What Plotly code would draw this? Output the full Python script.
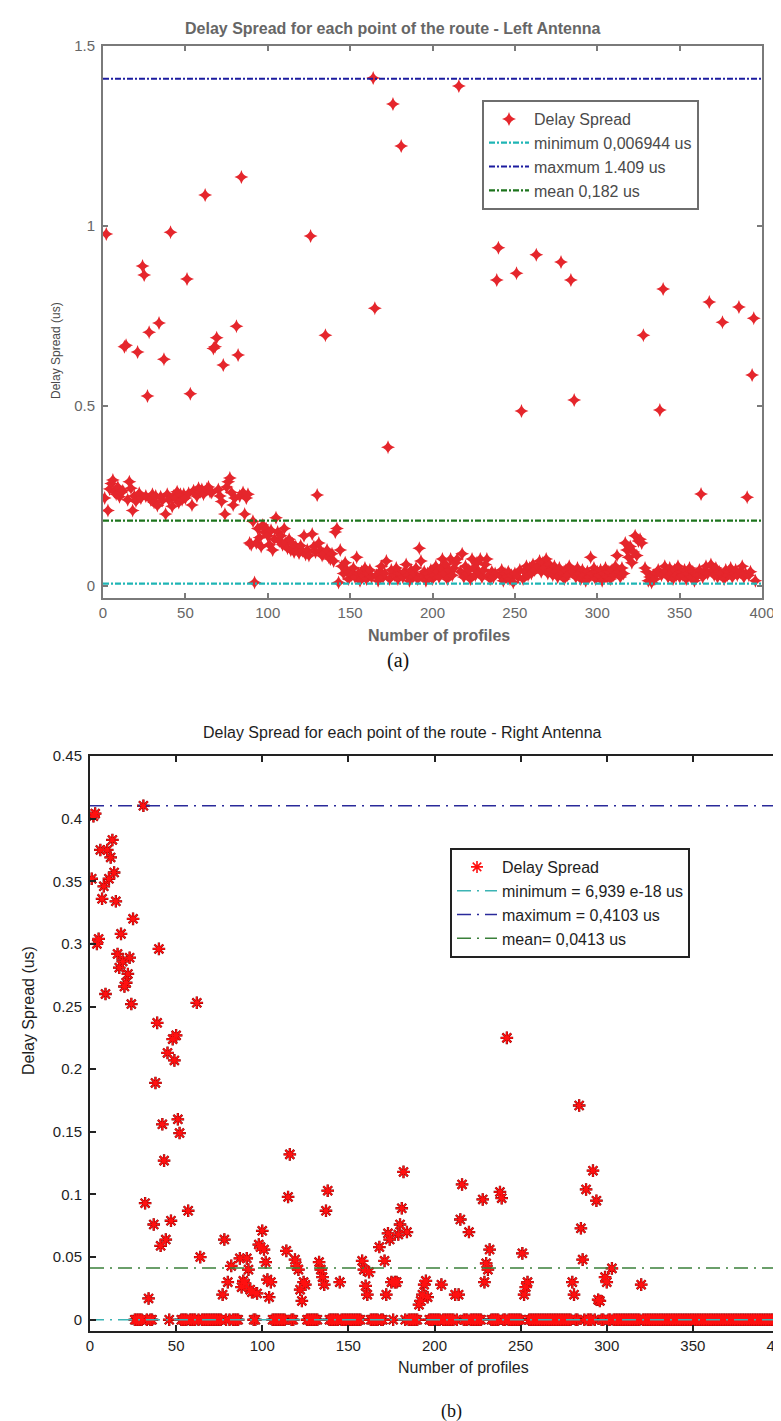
import plotly.graph_objects as go

# ---------------- DATA ----------------
# (a) Left antenna: delay spread (us) for profiles 1..396
left_ds = [
    0.245, 0.978, 0.210, 0.270, 0.285, 0.295, 0.262, 0.255, 0.275, 0.248,
    0.260, 0.265, 0.665, 0.669, 0.240, 0.290, 0.272, 0.210, 0.250, 0.236,
    0.650, 0.258, 0.245, 0.889, 0.864, 0.250, 0.528, 0.705, 0.240, 0.255,
    0.232, 0.250, 0.224, 0.731, 0.248, 0.238, 0.630, 0.200, 0.255, 0.240,
    0.983, 0.222, 0.250, 0.245, 0.262, 0.232, 0.255, 0.240, 0.255, 0.245,
    0.853, 0.258, 0.534, 0.225, 0.265, 0.260, 0.250, 0.272, 0.262, 0.268,
    0.255, 1.086, 0.270, 0.275, 0.262, 0.260, 0.660, 0.665, 0.690, 0.268,
    0.250, 0.235, 0.614, 0.200, 0.275, 0.290, 0.300, 0.260, 0.225, 0.245,
    0.722, 0.642, 0.250, 1.136, 0.260, 0.200, 0.245, 0.255, 0.120, 0.115,
    0.180, 0.010, 0.120, 0.160, 0.135, 0.110, 0.170, 0.150, 0.160, 0.140,
    0.115, 0.155, 0.100, 0.130, 0.190, 0.150, 0.125, 0.140, 0.115, 0.160,
    0.120, 0.105, 0.130, 0.100, 0.118, 0.095, 0.110, 0.100, 0.092, 0.112,
    0.098, 0.140, 0.088, 0.100, 0.085, 0.972, 0.145, 0.110, 0.095, 0.253,
    0.120, 0.100, 0.085, 0.090, 0.697, 0.100, 0.080, 0.075, 0.090, 0.070,
    0.150, 0.160, 0.010, 0.100, 0.055, 0.035, 0.065, 0.045, 0.020, 0.040,
    0.030, 0.050, 0.025, 0.080, 0.035, 0.015, 0.040, 0.030, 0.050, 0.020,
    0.035, 0.045, 0.025, 1.411, 0.772, 0.030, 0.015, 0.040, 0.055, 0.025,
    0.035, 0.070, 0.386, 0.020, 0.045, 1.339, 0.030, 0.050, 0.020, 0.035,
    1.222, 0.025, 0.040, 0.060, 0.030, 0.015, 0.045, 0.025, 0.035, 0.050,
    0.020, 0.105, 0.070, 0.030, 0.040, 0.015, 0.035, 0.025, 0.045, 0.020,
    0.030, 0.055, 0.040, 0.025, 0.050, 0.075, 0.035, 0.060, 0.020, 0.045,
    0.075, 0.030, 0.050, 0.065, 0.075, 1.389, 0.040, 0.090, 0.025, 0.055,
    0.035, 0.045, 0.020, 0.075, 0.050, 0.030, 0.065, 0.040, 0.075, 0.025,
    0.045, 0.060, 0.075, 0.030, 0.020, 0.040, 0.025, 0.035, 0.850, 0.940,
    0.030, 0.045, 0.015, 0.035, 0.025, 0.040, 0.020, 0.030, 0.010, 0.035,
    0.869, 0.025, 0.045, 0.486, 0.020, 0.040, 0.055, 0.030, 0.050, 0.035,
    0.060, 0.045, 0.920, 0.055, 0.070, 0.040, 0.065, 0.050, 0.075, 0.035,
    0.060, 0.045, 0.030, 0.055, 0.040, 0.025, 0.050, 0.900, 0.035, 0.020,
    0.045, 0.030, 0.055, 0.850, 0.040, 0.517, 0.025, 0.050, 0.035, 0.020,
    0.045, 0.030, 0.015, 0.040, 0.025, 0.080, 0.035, 0.050, 0.020, 0.040,
    0.030, 0.045, 0.015, 0.035, 0.050, 0.025, 0.040, 0.020, 0.045, 0.030,
    0.055, 0.085, 0.040, 0.025, 0.050, 0.035, 0.120, 0.100, 0.080, 0.110,
    0.065, 0.095, 0.140, 0.085, 0.125, 0.130, 0.120, 0.697, 0.050, 0.040,
    0.015, 0.025, 0.010, 0.030, 0.020, 0.035, 0.045, 0.489, 0.030, 0.825,
    0.055, 0.040, 0.025, 0.050, 0.035, 0.020, 0.045, 0.030, 0.055, 0.025,
    0.040, 0.030, 0.045, 0.020, 0.035, 0.050, 0.025, 0.040, 0.015, 0.035,
    0.030, 0.045, 0.256, 0.025, 0.040, 0.055, 0.035, 0.789, 0.060, 0.045,
    0.030, 0.050, 0.025, 0.040, 0.035, 0.733, 0.020, 0.045, 0.030, 0.040,
    0.050, 0.025, 0.035, 0.045, 0.030, 0.775, 0.040, 0.055, 0.025, 0.035,
    0.247, 0.030, 0.040, 0.586, 0.744, 0.015,
]
left_min, left_max, left_mean = 0.006944, 1.409, 0.182

# (b) Right antenna: delay spread (us) for profiles 1..398
right_ds = [
    0.352, 0.402, 0.404, 0.300, 0.304, 0.375, 0.336, 0.346, 0.260, 0.375,
    0.352, 0.369, 0.383, 0.357, 0.334, 0.292, 0.281, 0.308, 0.286, 0.266,
    0.269, 0.276, 0.289, 0.252, 0.320, 0.0, 0.0, 0.0, 0.0, 0.0,
    0.4103, 0.093, 0.0, 0.017, 0.0, 0.0, 0.076, 0.189, 0.237, 0.296,
    0.059, 0.156, 0.127, 0.064, 0.213, 0.0, 0.079, 0.224, 0.207, 0.227,
    0.160, 0.149, 0.0, 0.0, 0.0, 0.0, 0.087, 0.0, 0.0, 0.0,
    0.0, 0.253, 0.0, 0.050, 0.0, 0.0, 0.0, 0.0, 0.0, 0.0,
    0.0, 0.0, 0.0, 0.0, 0.0, 0.0, 0.020, 0.064, 0.0, 0.030,
    0.0, 0.043, 0.0, 0.0, 0.0, 0.0, 0.049, 0.026, 0.031, 0.029,
    0.049, 0.040, 0.024, 0.022, 0.0, 0.0, 0.021, 0.060, 0.058, 0.071,
    0.056, 0.046, 0.032, 0.018, 0.030, 0.0, 0.0, 0.0, 0.0, 0.0,
    0.0, 0.0, 0.0, 0.055, 0.098, 0.132, 0.0, 0.0, 0.048, 0.043,
    0.040, 0.024, 0.015, 0.030, 0.028, 0.0, 0.0, 0.0, 0.0, 0.0,
    0.0, 0.0, 0.046, 0.040, 0.034, 0.028, 0.087, 0.103, 0.0, 0.0,
    0.0, 0.0, 0.0, 0.0, 0.030, 0.0, 0.0, 0.0, 0.0, 0.0,
    0.0, 0.0, 0.0, 0.0, 0.0, 0.0, 0.0, 0.047, 0.040, 0.027,
    0.020, 0.038, 0.0, 0.0, 0.0, 0.0, 0.0, 0.058, 0.0, 0.0,
    0.047, 0.020, 0.069, 0.064, 0.030, 0.0, 0.030, 0.030, 0.068, 0.076,
    0.089, 0.118, 0.0, 0.070, 0.0, 0.0, 0.0, 0.0, 0.0, 0.0,
    0.012, 0.015, 0.020, 0.028, 0.031, 0.018, 0.0, 0.0, 0.0, 0.0,
    0.0, 0.0, 0.0, 0.028, 0.0, 0.0, 0.0, 0.0, 0.0, 0.0,
    0.0, 0.020, 0.0, 0.020, 0.080, 0.108, 0.0, 0.0, 0.0, 0.070,
    0.0, 0.0, 0.0, 0.0, 0.0, 0.0, 0.0, 0.096, 0.030, 0.045,
    0.040, 0.056, 0.0, 0.0, 0.0, 0.0, 0.0, 0.102, 0.097, 0.0,
    0.0, 0.225, 0.0, 0.0, 0.0, 0.0, 0.0, 0.0, 0.0, 0.0,
    0.053, 0.020, 0.026, 0.030, 0.0, 0.0, 0.0, 0.0, 0.0, 0.0,
    0.0, 0.0, 0.0, 0.0, 0.0, 0.0, 0.0, 0.0, 0.0, 0.0,
    0.0, 0.0, 0.0, 0.0, 0.0, 0.0, 0.0, 0.0, 0.0, 0.030,
    0.020, 0.0, 0.0, 0.171, 0.073, 0.048, 0.0, 0.104, 0.0, 0.0,
    0.0, 0.119, 0.0, 0.095, 0.016, 0.015, 0.0, 0.0, 0.034, 0.030,
    0.0, 0.0, 0.041, 0.0, 0.0, 0.0, 0.0, 0.0, 0.0, 0.0,
    0.0, 0.0, 0.0, 0.0, 0.0, 0.0, 0.0, 0.0, 0.0, 0.028,
    0.0, 0.0, 0.0, 0.0, 0.0, 0.0, 0.0, 0.0, 0.0, 0.0,
    0.0, 0.0, 0.0, 0.0, 0.0, 0.0, 0.0, 0.0, 0.0, 0.0,
    0.0, 0.0, 0.0, 0.0, 0.0, 0.0, 0.0, 0.0, 0.0, 0.0,
    0.0, 0.0, 0.0, 0.0, 0.0, 0.0, 0.0, 0.0, 0.0, 0.0,
    0.0, 0.0, 0.0, 0.0, 0.0, 0.0, 0.0, 0.0, 0.0, 0.0,
    0.0, 0.0, 0.0, 0.0, 0.0, 0.0, 0.0, 0.0, 0.0, 0.0,
    0.0, 0.0, 0.0, 0.0, 0.0, 0.0, 0.0, 0.0, 0.0, 0.0,
    0.0, 0.0, 0.0, 0.0, 0.0, 0.0, 0.0, 0.0,
]
right_min, right_max, right_mean = 6.939e-18, 0.4103, 0.0413

x_span = [0, 400]
top_yticks = [0, 0.5, 1, 1.5]
top_yticktext = ["0", "0.5", "1", "1.5"]
bot_yticks = [0, 0.05, 0.1, 0.15, 0.2, 0.25, 0.3, 0.35, 0.4, 0.45]
bot_yticktext = ["0", "0.05", "0.1", "0.15", "0.2", "0.25", "0.3", "0.35", "0.4", "0.45"]

left_labels = ["Delay Spread", "minimum 0,006944 us", "maxmum 1.409 us", "mean 0,182 us"]
right_labels = ["Delay Spread", "minimum = 6,939 e-18 us", "maximum = 0,4103 us", "mean= 0,0413 us"]

# ---------------- FIGURE ----------------
W, H = 781, 1421
FONT = "Arial, Liberation Sans, sans-serif"
GRAY = "#666666"
DARK = "#1e1e1e"

x_left = list(range(1, len(left_ds) + 1))
x_right = list(range(1, len(right_ds) + 1))

fig = go.Figure()

# ---- top panel (a)
fig.add_trace(go.Scatter(
    x=x_left, y=left_ds, mode="markers", name=left_labels[0],
    marker=dict(symbol="star-diamond", size=10, color="#e5262c", line=dict(width=0)),
    xaxis="x", yaxis="y", legend="legend"))
top_dash = "6px,2px,2px,2px"
for val, col, lab in [(left_min, "#1fb5b5", left_labels[1]),
                      (left_max, "#1c1ca0", left_labels[2]),
                      (left_mean, "#1d741d", left_labels[3])]:
    fig.add_trace(go.Scatter(
        x=x_span, y=[val, val], mode="lines", name=lab,
        line=dict(color=col, width=2.2, dash=top_dash),
        xaxis="x", yaxis="y", legend="legend"))

# ---- bottom panel (b)
fig.add_trace(go.Scatter(
    x=x_right, y=right_ds, mode="markers", showlegend=False, hoverinfo="skip",
    marker=dict(symbol="asterisk-open", size=10.5, color="#7a0000",
                line=dict(width=2.3, color="#7a0000")),
    xaxis="x2", yaxis="y2"))
fig.add_trace(go.Scatter(
    x=x_right, y=right_ds, mode="markers", name=right_labels[0],
    marker=dict(symbol="asterisk-open", size=10, color="#ff1010",
                line=dict(width=1.6, color="#ff1010")),
    xaxis="x2", yaxis="y2", legend="legend2"))
bot_dash = "14px,6px,2px,6px"
for val, col, lab in [(right_min, "#3cb4b4", right_labels[1]),
                      (right_max, "#2a2a9a", right_labels[2]),
                      (right_mean, "#3a803a", right_labels[3])]:
    fig.add_trace(go.Scatter(
        x=x_span, y=[val, val], mode="lines", name=lab,
        line=dict(color=col, width=1.5, dash=bot_dash),
        xaxis="x2", yaxis="y2", legend="legend2"))


def px_x(p):
    return p / W


def px_y(p):
    return 1 - p / H


top_axis = dict(showgrid=False, zeroline=False, showline=True, linecolor="#7a7a7a",
                linewidth=2, mirror="ticks", ticks="inside", ticklen=5,
                tickcolor="#7a7a7a", tickwidth=1.5, automargin=False,
                ticklabeloverflow="allow",
                tickfont=dict(family=FONT, size=15, color=GRAY))
bot_axis = dict(showgrid=False, zeroline=False, showline=True, linecolor="#222222",
                linewidth=2, mirror="ticks", ticks="inside", ticklen=6,
                tickcolor="#222222", tickwidth=1.5, automargin=False,
                ticklabeloverflow="allow",
                tickfont=dict(family=FONT, size=15, color=DARK))

fig.update_layout(
    width=W, height=H, margin=dict(l=0, r=0, t=0, b=0, autoexpand=False),
    paper_bgcolor="white", plot_bgcolor="white",
    font=dict(family=FONT),
    xaxis=dict(top_axis, domain=[px_x(95), px_x(754)], range=[0, 400], dtick=50,
               anchor="y"),
    yaxis=dict(top_axis, domain=[px_y(590), px_y(38)], range=[-0.033, 1.5],
               tickvals=top_yticks, ticktext=top_yticktext, anchor="x",
               ticklabelstandoff=3),
    xaxis2=dict(bot_axis, domain=[px_x(82), px_x(771)], range=[0, 400], dtick=50,
                anchor="y2"),
    yaxis2=dict(bot_axis, domain=[px_y(1323), px_y(748)], range=[-0.009, 0.45],
                tickvals=bot_yticks, ticktext=bot_yticktext, anchor="x2",
                ticklabelstandoff=3),
    legend=dict(x=px_x(474), y=px_y(92), xanchor="left", yanchor="top",
                bgcolor="white", bordercolor="#6e6e6e", borderwidth=2,
                font=dict(family=FONT, size=16, color="#4a4a4a"),
                itemwidth=40, tracegroupgap=0),
    legend2=dict(x=px_x(442), y=px_y(840), xanchor="left", yanchor="top",
                 bgcolor="white", bordercolor="#222222", borderwidth=2,
                 font=dict(family=FONT, size=16, color=DARK),
                 itemwidth=40, tracegroupgap=0),
    showlegend=True,
)

annots = [
    dict(text="<b>Delay Spread for each point of the route - Left Antenna</b>",
         x=px_x(385), y=px_y(20), font=dict(family=FONT, size=16, color=GRAY)),
    dict(text="<b>Number of profiles</b>", x=px_x(431), y=px_y(627),
         font=dict(family=FONT, size=16, color=GRAY)),
    dict(text="Delay Spread (us)", x=px_x(48), y=px_y(343), textangle=-90,
         font=dict(family=FONT, size=12, color="#4a4a4a")),
    dict(text="(a)", x=px_x(390), y=px_y(652),
         font=dict(family="Liberation Serif, Times New Roman, serif", size=20, color="#111")),
    dict(text="Delay Spread for each point of the route - Right Antenna",
         x=px_x(395), y=px_y(724), font=dict(family=FONT, size=16, color=DARK)),
    dict(text="Number of profiles", x=px_x(455), y=px_y(1359),
         font=dict(family=FONT, size=16, color=DARK)),
    dict(text="Delay Spread (us)", x=px_x(20), y=px_y(1003), textangle=-90,
         font=dict(family=FONT, size=16, color=DARK)),
    dict(text="(b)", x=px_x(443), y=px_y(1403),
         font=dict(family="Liberation Serif, Times New Roman, serif", size=18, color="#111")),
]
for a in annots:
    a.update(xref="paper", yref="paper", xanchor="center", yanchor="middle",
             showarrow=False)
    fig.add_annotation(**a)

fig.write_html("out.html")
